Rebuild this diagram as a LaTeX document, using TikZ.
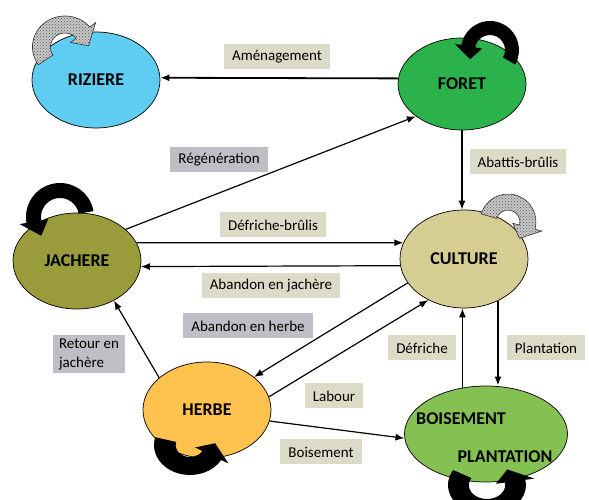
\documentclass[tikz,border=0pt]{standalone}
\usepackage{fontspec}
\setmainfont{Carlito}
\usetikzlibrary{shapes.geometric,arrows.meta,patterns,calc}

\definecolor{bleuriz}{RGB}{95,205,242}
\definecolor{vertforet}{RGB}{43,178,76}
\definecolor{coljach}{RGB}{154,155,58}
\definecolor{colcult}{RGB}{214,205,147}
\definecolor{colherbe}{RGB}{255,194,78}
\definecolor{colbois}{RGB}{132,193,82}
\definecolor{beigeleg}{RGB}{220,219,200}
\definecolor{grisleg}{RGB}{190,190,196}

\tikzset{
  etat/.style={ellipse, draw=black, line width=0.7pt, inner sep=0pt,
    minimum width=128pt, minimum height=96pt,
    font=\fontsize{18}{20}\selectfont\bfseries},
  titre/.style={font=\fontsize{18}{20}\selectfont\bfseries, inner sep=0pt},
  legende/.style={fill=beigeleg, inner xsep=8pt, inner ysep=3pt,
    minimum height=25pt, font=\fontsize{15}{19}\selectfont},
  legendegris/.style={legende, fill=grisleg},
  flux/.style={line width=1.2pt, -{Latex[length=9pt,width=7pt]}},
  boucle/.style={fill=black},
  bouclegrise/.style={draw=black!80, line width=0.6pt, preaction={fill=black!22},
    pattern=crosshatch dots, pattern color=black!65},
}

% self-loop band: scope options, inner r, outer r, start, end, tip angle, style
\newcommand{\cyclefleche}[7]{%
  \begin{scope}[#1]
    \path[#7] (#4:#3) arc[start angle=#4, end angle=#5, radius=#3]
      -- ({#5}:{#3+7}) -- ({#6}:{(#2+#3)/2}) -- ({#5}:{#2-7})
      -- (#5:#2) arc[start angle=#5, end angle=#4, radius=#2] -- cycle;
  \end{scope}}

\begin{document}
\begin{tikzpicture}[x=1pt,y=1pt]
  \useasboundingbox (0,0) rectangle (589,500);

  % etats
  \node[etat, fill=bleuriz] (riziere) at (96,420) {RIZIERE};
  \node[etat, fill=vertforet, minimum height=92pt] (foret) at (462,416) {FORET};
  \node[etat, fill=coljach] (jachere) at (77,239) {JACHERE};
  \node[etat, fill=colcult, minimum height=98pt] (culture) at (464,241) {CULTURE};
  \node[etat, fill=colherbe] (herbe) at (207,90) {HERBE};
  \node[etat, fill=colbois, minimum width=163pt] (boisement) at (486,66) {};
  \node[titre] (boistxt) at ($(boisement)+(-25,15)$) {BOISEMENT};
  \node[titre] (planttxt) at ($(boisement)+(19,-23)$) {PLANTATION};

  % boucles
  \cyclefleche{shift={(65,453)},xscale=1.05}{14}{31}{215}{40}{3}{bouclegrise}
  \cyclefleche{shift={(508,278)}}{12}{28}{163}{-15}{-55}{bouclegrise}
  \cyclefleche{shift={(490,450)}}{15}{29}{-30}{170}{205}{boucle}
  \cyclefleche{shift={(60,283)}}{19}{34}{10}{190}{225}{boucle}
  \cyclefleche{shift={(190,55)},xscale=1.2}{12}{30}{165}{330}{365}{boucle}
  \cyclefleche{shift={(487,15)},xscale=1.3}{14}{30}{150}{370}{405}{boucle}

  % transitions
  \draw[flux, line width=1.8pt] (foret.175) -- (riziere.2);
  \draw[flux] (jachere.33) -- (foret.215);
  \draw[flux] (foret.south) -- (foret.south |- culture.north);
  \draw[flux] (jachere.17) -- (culture.165);
  \draw[flux] (culture.186) -- (jachere.-5);
  \draw[flux] (culture.203) -- (herbe.35);
  \draw[flux] (herbe.12) -- (culture.229);
  \draw[flux] (herbe.146) -- (jachere.313);
  \draw[flux] (herbe.-10) -- (boisement.183);
  \draw[flux] (boisement.117) -- (boisement.117 |- culture.south);
  \draw[flux, line width=1.8pt] (culture.309) -- (culture.309 |- boisement.north);

  % legendes
  \node[legende] (lamenag) at (277,443) {Aménagement};
  \node[legendegris] (lregen) at (219,340) {Régénération};
  \node[legende] (labattis) at (518,338) {Abattis-brûlis};
  \node[legende] (ldefbr) at (273,275) {Défriche-brûlis};
  \node[legende] (labjach) at (271,214) {Abandon en jachère};
  \node[legendegris] (labherbe) at (248,174) {Abandon en herbe};
  \node[legendegris, align=left, inner xsep=6pt] (lretour) at (89,146) {Retour en\\jachère};
  \node[legende] (ldefriche) at (422,152) {Défriche};
  \node[legende] (lplant) at (546,152) {Plantation};
  \node[legende] (llabour) at (334,104) {Labour};
  \node[legende] (lboise) at (321,48) {Boisement};
\end{tikzpicture}
\end{document}
